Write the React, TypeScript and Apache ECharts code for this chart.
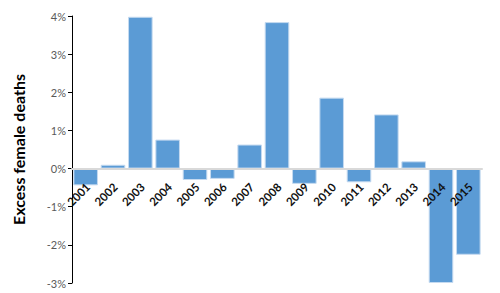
import React, { useEffect, useRef } from "react";
import * as echarts from "echarts";

const years = ["2001","2002","2003","2004","2005","2006","2007","2008","2009","2010","2011","2012","2013","2014","2015"];
const excess = [-0.44, 0.1, 3.98, 0.76, -0.3, -0.27, 0.63, 3.84, -0.4, 1.86, -0.36, 1.42, 0.19, -3.0, -2.26];
const yTicks = { min: -3, max: 4, interval: 1 };

const GRID_TOP = 16;
const GRID_BOTTOM = 10;
const HEIGHT = 293;

export default function App() {
  const ref = useRef<HTMLDivElement>(null);
  useEffect(() => {
    const chart = echarts.init(ref.current!, null, { renderer: "svg" });
    const plotH = HEIGHT - GRID_TOP - GRID_BOTTOM;
    const zeroFromBottom = plotH * (0 - yTicks.min) / (yTicks.max - yTicks.min);
    chart.setOption({
      animation: false,
      grid: { left: 72, right: 18, top: GRID_TOP, bottom: GRID_BOTTOM, containLabel: false, outerBoundsMode: "none" },
      xAxis: {
        type: "category",
        data: years,
        offset: -zeroFromBottom,
        axisLine: { onZero: false, lineStyle: { color: "#d9d9d9", width: 2 } },
        axisTick: { show: false },
        axisLabel: { show: false },
        z: 5,
      },
      yAxis: {
        type: "value",
        min: yTicks.min,
        max: yTicks.max,
        interval: yTicks.interval,
        name: "Excess female deaths",
        nameLocation: "middle",
        nameGap: 46,
        nameTextStyle: { fontSize: 16, fontWeight: "bold", color: "#000", fontFamily: "Lato" },
        axisLine: { show: true, lineStyle: { color: "#000", width: 1 } },
        axisTick: { show: true, length: 4, lineStyle: { color: "#000" } },
        axisLabel: { formatter: "{value}%", color: "#595959", fontSize: 11, fontFamily: "Lato", margin: 6 },
        splitLine: { show: false },
      },
      series: [
        {
          type: "bar",
          data: excess,
          barCategoryGap: "10%",
          itemStyle: { color: "#5b9bd5", borderColor: "#c5daf0", borderWidth: 1 },
        },
        {
          type: "custom",
          data: years.map((y) => [y, 0]),
          clip: false,
          z: 10,
          silent: true,
          renderItem: (params: any, api: any) => {
            const p = api.coord([api.value(0), 0]);
            return {
              type: "text",
              x: p[0] - 2,
              y: p[1] + 12,
              rotation: Math.PI / 4,
              style: {
                text: years[params.dataIndex],
                align: "right",
                verticalAlign: "top",
                fill: "#111",
                fontSize: 11.5,
                fontFamily: "Lato",
                fontWeight: "bold",
              },
            };
          },
        },
      ],
    });
    return () => chart.dispose();
  }, []);
  return <div ref={ref} style={{ width: 500, height: 293, position: "absolute", left: 0, top: 0 }} />;
}
